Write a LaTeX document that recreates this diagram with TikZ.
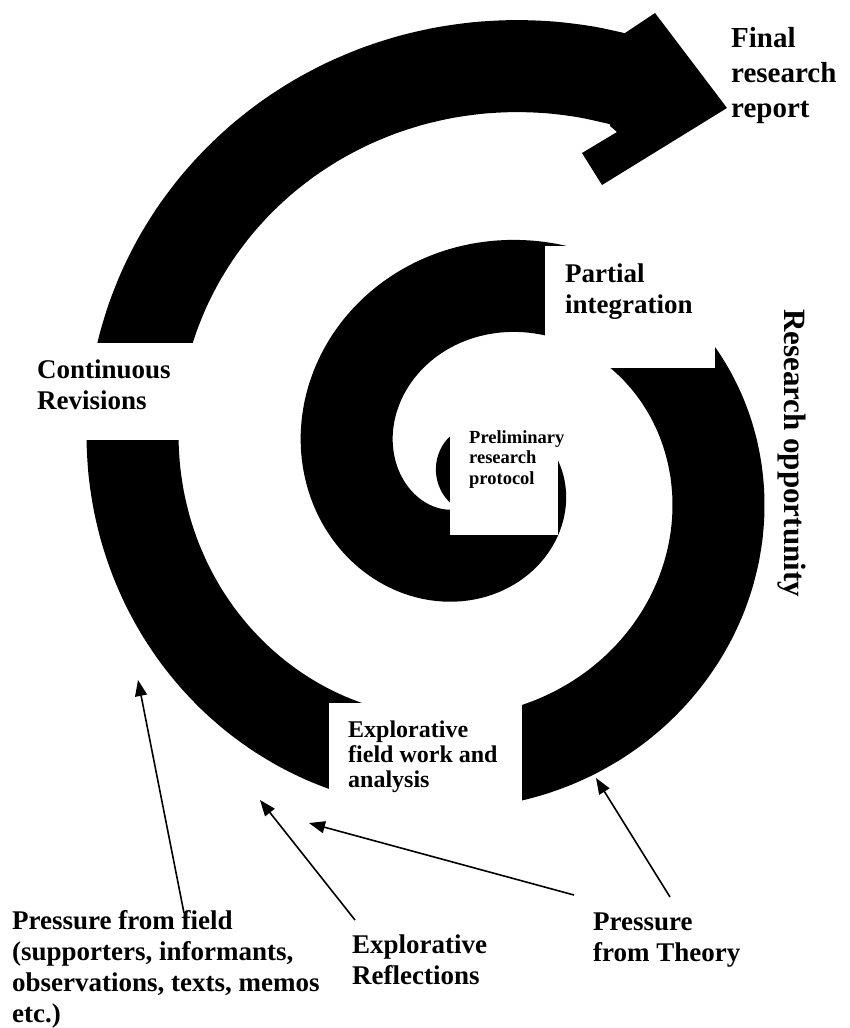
\documentclass[tikz,border=0pt]{standalone}
\usepackage{fontspec}
\setmainfont{Liberation Serif}
\usetikzlibrary{arrows.meta}

\begin{document}
\begin{tikzpicture}[
  x=1pt, y=-1pt,
  mylabel/.style={
     font=\bfseries\fontsize{27}{31}\selectfont,
     align=left,
     inner sep=0pt,
     anchor=base west},
  toplabel/.style={mylabel, font=\bfseries\fontsize{29}{35}\selectfont},
  midlabel/.style={mylabel, font=\bfseries\fontsize{24}{25}\selectfont},
  tinylabel/.style={mylabel, font=\bfseries\fontsize{18.5}{20.5}\selectfont},
  sidelabel/.style={font=\bfseries\fontsize{31}{37}\selectfont, inner sep=0pt},
  myband/.style={line width=92pt, line cap=round},
  mycut/.style={fill=white},
  myarrow/.style={-{Triangle[length=16pt,width=12pt]}, line width=1.6pt}
  ]
  \useasboundingbox (0,0) rectangle (850,1028);

  % spiral band
  \draw[myband] plot[smooth, domain=-50:650, samples=141]
    ({480.5+(29.2+0.5457*\x+0.0000754*\x*\x)*cos(\x)},
     {471+(29.2+0.5457*\x+0.0000754*\x*\x)*sin(\x)});
  \fill (622,35) -- (655,13) -- (727,108) -- (602,185) -- (582,153)
    -- (617,132) -- (610,126) -- cycle;

  % white boxes
  \fill[mycut] (20,343) rectangle (215,440);
  \fill[mycut] (545,246) rectangle (715,368);
  \fill[mycut] (450,380) rectangle (558,535);
  \fill[mycut] (329,703) rectangle (522,812);

  % labels (placed at the baseline of their last line)
  \node[toplabel]  (final)   at (731,117) {Final\\research\\report};
  \node[mylabel]   (partial) at (565,313) {Partial\\integration};
  \node[mylabel]   (revise)  at (37,409)  {Continuous\\Revisions};
  \node[tinylabel] (prelim)  at (469,484) {Preliminary\\research\\protocol};
  \node[midlabel]  (fwork)   at (348,787) {Explorative\\field work and\\analysis};
  \node[sidelabel, rotate=-90] (opport) at (792,453) {Research opportunity};

  \node[mylabel] (field)   at (12,1022) {Pressure from field\\(supporters, informants,\\observations, texts, memos\\etc.)};
  \node[mylabel] (reflect) at (352,984) {Explorative\\Reflections};
  \node[mylabel] (theory)  at (593,961) {Pressure\\from Theory};

  % arrow ends
  \coordinate (fieldtail)   at (184,913);
  \coordinate (fieldtip)    at (138,680);
  \coordinate (reflecttail) at (355,920);
  \coordinate (reflecttip)  at (260,800);
  \coordinate (theorytailA) at (574,895);
  \coordinate (theorytipA)  at (309,823);
  \coordinate (theorytailB) at (670,897);
  \coordinate (theorytipB)  at (596,778);

% edges
\draw [myarrow] (fieldtail) -- (fieldtip);
\draw [myarrow] (reflecttail) -- (reflecttip);
\draw [myarrow] (theorytailA) -- (theorytipA);
\draw [myarrow] (theorytailB) -- (theorytipB);

\end{tikzpicture}
\end{document}
